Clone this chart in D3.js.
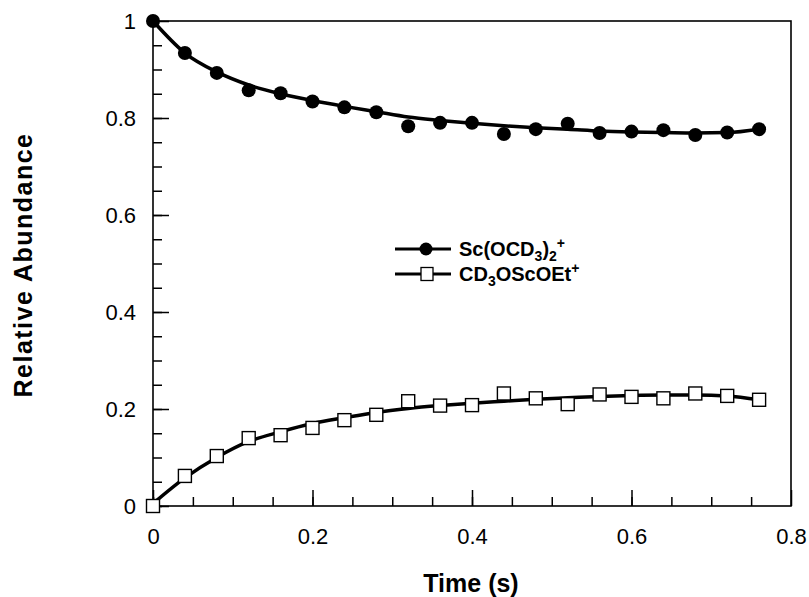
<!DOCTYPE html>
<html>
<head>
<meta charset="utf-8">
<script src="https://cdn.jsdelivr.net/npm/d3@7"></script>
<style>
  body { margin: 0; background: #fff; }
  svg { font-family: "Liberation Sans", Arial, Helvetica, sans-serif; }
</style>
</head>
<body>
<div id="chart"></div>
<script>
var times = [0, 0.04, 0.08, 0.12, 0.16, 0.20, 0.24, 0.28, 0.32, 0.36,
             0.40, 0.44, 0.48, 0.52, 0.56, 0.60, 0.64, 0.68, 0.72, 0.76];
var scValues = [1.0, 0.934, 0.893, 0.857, 0.851, 0.834, 0.822, 0.812, 0.783, 0.790,
                0.790, 0.767, 0.777, 0.788, 0.769, 0.772, 0.775, 0.765, 0.770, 0.777];
var cdValues = [0.0, 0.062, 0.103, 0.140, 0.146, 0.161, 0.177, 0.188, 0.216, 0.207,
                0.208, 0.232, 0.222, 0.210, 0.230, 0.225, 0.222, 0.232, 0.227, 0.219];

// fitted curves
var fitTimes = [0, 0.04, 0.08, 0.12, 0.16, 0.20, 0.24, 0.28, 0.32, 0.36,
                0.40, 0.44, 0.48, 0.52, 0.56, 0.60, 0.64, 0.68, 0.72, 0.76];
var scFit = [1.0, 0.934, 0.895, 0.868, 0.850, 0.836, 0.824, 0.813, 0.802, 0.795,
             0.789, 0.784, 0.780, 0.777, 0.773, 0.771, 0.770, 0.769, 0.770, 0.777];
var cdFit = [0.005, 0.058, 0.100, 0.133, 0.153, 0.170, 0.182, 0.193, 0.201, 0.207,
             0.212, 0.216, 0.220, 0.223, 0.226, 0.228, 0.229, 0.229, 0.227, 0.219];

var xTicks = [0, 0.2, 0.4, 0.6, 0.8];
var yTicks = [0, 0.2, 0.4, 0.6, 0.8, 1];
var xTickLabels = ["0", "0.2", "0.4", "0.6", "0.8"];
var yTickLabels = ["0", "0.2", "0.4", "0.6", "0.8", "1"];
var minorTicks = d3.range(0, 21).map(function(i) { return i * 0.05; });

var width = 809, height = 597;
var plotL = 153, plotR = 791, plotT = 21, plotB = 506;

var svg = d3.select("#chart").append("svg")
    .attr("width", width)
    .attr("height", height);

var x = d3.scaleLinear().domain([0, 0.8]).range([plotL, plotR]);
var y = d3.scaleLinear().domain([0, 1]).range([plotB, plotT]);

// frame
svg.append("rect")
    .attr("x", plotL).attr("y", plotT)
    .attr("width", plotR - plotL).attr("height", plotB - plotT)
    .attr("fill", "none").attr("stroke", "#000").attr("stroke-width", 1.6);

// minor ticks, pointing inward
svg.append("g")
    .attr("transform", "translate(0," + plotB + ")")
    .call(d3.axisBottom(x).tickValues(minorTicks.filter(function(v) { return v < 0.79; }))
        .tickSize(-9).tickFormat(""))
    .call(function(g) { g.select(".domain").remove(); });
svg.append("g")
    .attr("transform", "translate(" + plotL + ",0)")
    .call(d3.axisLeft(y).tickValues(minorTicks.filter(function(v) { return v < 0.99; }))
        .tickSize(-9).tickFormat(""))
    .call(function(g) { g.select(".domain").remove(); });

// major ticks with labels
var xAxis = svg.append("g")
    .attr("transform", "translate(0," + plotB + ")")
    .call(d3.axisBottom(x).tickValues(xTicks).tickSize(-16).tickPadding(22)
        .tickFormat(function(d, i) { return xTickLabels[i]; }));
xAxis.select(".domain").remove();

var yAxis = svg.append("g")
    .attr("transform", "translate(" + plotL + ",0)")
    .call(d3.axisLeft(y).tickValues(yTicks).tickSize(-16).tickPadding(17)
        .tickFormat(function(d, i) { return yTickLabels[i]; }));
yAxis.select(".domain").remove();

svg.selectAll(".tick line").attr("stroke", "#000").attr("stroke-width", 1.5);
svg.selectAll(".tick text")
    .attr("fill", "#000")
    .style("font-size", "22px")
    .style("font-family", "'Liberation Sans', Arial, sans-serif");

// fitted lines
var line = d3.line()
    .x(function(d) { return x(d[0]); })
    .y(function(d) { return y(d[1]); })
    .curve(d3.curveMonotoneX);

svg.append("path")
    .datum(d3.zip(fitTimes, scFit))
    .attr("d", line)
    .attr("fill", "none").attr("stroke", "#000").attr("stroke-width", 3.5);

svg.append("path")
    .datum(d3.zip(fitTimes, cdFit))
    .attr("d", line)
    .attr("fill", "none").attr("stroke", "#000").attr("stroke-width", 3.5);

// markers
svg.append("g").selectAll("circle")
    .data(d3.zip(times, scValues))
    .enter()
    .append("circle")
    .attr("cx", function(d) { return x(d[0]); })
    .attr("cy", function(d) { return y(d[1]); })
    .attr("r", 7)
    .attr("fill", "#000");

var sq = 13;
svg.append("g").selectAll("rect")
    .data(d3.zip(times, cdValues))
    .enter()
    .append("rect")
    .attr("x", function(d) { return x(d[0]) - sq / 2; })
    .attr("y", function(d) { return y(d[1]) - sq / 2; })
    .attr("width", sq).attr("height", sq)
    .attr("fill", "#fff").attr("stroke", "#000").attr("stroke-width", 1.4);

// legend
var legend = svg.append("g");
var rows = [249, 274];

legend.selectAll("line")
    .data(rows)
    .enter()
    .append("line")
    .attr("x1", 395).attr("x2", 451)
    .attr("y1", function(d) { return d; }).attr("y2", function(d) { return d; })
    .attr("stroke", "#000").attr("stroke-width", 3);

legend.append("circle")
    .attr("cx", 426).attr("cy", rows[0]).attr("r", 6.5).attr("fill", "#000");
legend.append("rect")
    .attr("x", 421).attr("y", rows[1] - 6.5).attr("width", 12).attr("height", 13)
    .attr("fill", "#fff").attr("stroke", "#000").attr("stroke-width", 1.3);

var t1 = legend.append("text")
    .attr("x", 459).attr("y", rows[0] + 7)
    .style("font-size", "20px").style("font-weight", "bold");
t1.append("tspan").text("Sc(OCD");
t1.append("tspan").attr("dy", 5).style("font-size", "14px").text("3");
t1.append("tspan").attr("dy", -5).text(")");
t1.append("tspan").attr("dy", 5).style("font-size", "14px").text("2");
t1.append("tspan").attr("dy", -13).style("font-size", "14px").text("+");

var t2 = legend.append("text")
    .attr("x", 459).attr("y", rows[1] + 7)
    .style("font-size", "20px").style("font-weight", "bold");
t2.append("tspan").text("CD");
t2.append("tspan").attr("dy", 5).style("font-size", "14px").text("3");
t2.append("tspan").attr("dy", -5).text("OScOEt");
t2.append("tspan").attr("dy", -8).style("font-size", "14px").text("+");

// axis titles
svg.append("text")
    .attr("x", 471).attr("y", 592)
    .attr("text-anchor", "middle")
    .style("font-size", "25px").style("font-weight", "bold")
    .text("Time (s)");

svg.append("text")
    .attr("transform", "translate(32,265) rotate(-90)")
    .attr("text-anchor", "middle")
    .style("font-size", "25px").style("font-weight", "bold")
    .style("letter-spacing", "1.5px")
    .text("Relative  Abundance");
</script>
</body>
</html>
